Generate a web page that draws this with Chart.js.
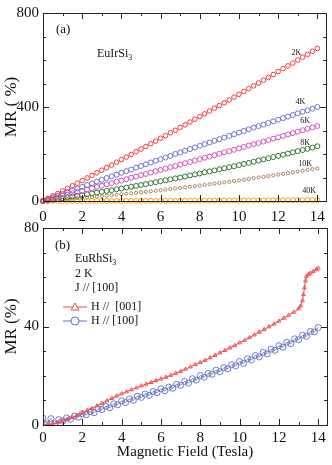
<!DOCTYPE html>
<html>
<head>
<meta charset="utf-8">
<script src="https://cdn.jsdelivr.net/npm/chart.js@4.4.1/dist/chart.umd.min.js"></script>
<style>
  html, body { margin: 0; padding: 0; background: #fff; }
  body { width: 332px; height: 465px; position: relative; overflow: hidden; }
  canvas { position: absolute; left: 0; }
  #chartA { top: 0; }
  #chartB { top: 215px; }
</style>
</head>
<body>
<canvas id="chartA" width="332" height="225"></canvas>
<canvas id="chartB" width="332" height="250"></canvas>
<script>
// panel (a): EuIrSi3, MR vs field at several temperatures
const fieldA = [0, 0.25, 0.5, 0.75, 1, 1.25, 1.5, 1.75, 2, 2.25, 2.5, 2.75, 3, 3.25, 3.5, 3.75, 4, 4.25, 4.5, 4.75,
  5, 5.25, 5.5, 5.75, 6, 6.25, 6.5, 6.75, 7, 7.25, 7.5, 7.75, 8, 8.25, 8.5, 8.75, 9, 9.25, 9.5, 9.75,
  10, 10.25, 10.5, 10.75, 11, 11.25, 11.5, 11.75, 12, 12.25, 12.5, 12.75, 13, 13.25, 13.5, 13.75, 14];
const mr2K = [0, 11, 22, 32, 43, 54, 65, 76, 87, 98, 109, 120, 131, 142, 153, 165, 176, 187, 198, 210,
  221, 232, 244, 255, 267, 278, 290, 301, 313, 324, 336, 348, 359, 371, 383, 395, 406, 418, 430, 442,
  454, 466, 478, 490, 502, 514, 526, 538, 551, 563, 575, 587, 600, 612, 624, 637, 649];
const mr4K = [0, 8, 15, 23, 30, 38, 45, 53, 60, 68, 75, 83, 90, 98, 105, 112, 120, 127, 134, 142,
  149, 156, 164, 171, 178, 185, 192, 200, 207, 214, 221, 228, 235, 242, 249, 256, 263, 270, 277, 284,
  291, 298, 305, 312, 319, 325, 332, 339, 346, 353, 359, 366, 373, 380, 386, 393, 400];
const mr6K = [0, 5, 11, 16, 22, 27, 33, 38, 43, 49, 54, 60, 65, 71, 76, 82, 87, 93, 99, 104,
  110, 115, 121, 127, 132, 138, 144, 149, 155, 161, 166, 172, 178, 184, 189, 195, 201, 207, 212, 218,
  224, 230, 236, 242, 247, 253, 259, 265, 271, 277, 283, 289, 295, 301, 307, 313, 319];
const mr8K = [0, 3, 6, 9, 12, 16, 19, 22, 25, 29, 32, 36, 39, 43, 46, 50, 53, 57, 61, 64,
  68, 72, 76, 80, 84, 88, 92, 96, 100, 104, 109, 113, 117, 122, 126, 130, 135, 139, 144, 148,
  153, 158, 162, 167, 172, 177, 182, 187, 192, 197, 202, 207, 212, 217, 222, 227, 233];
const mr10K = [0, 1.5, 3.1, 4.7, 6.3, 7.9, 9.6, 11.4, 13.1, 14.9, 16.8, 18.6, 20.5, 22.5, 24.4, 26.4, 28.5, 30.6, 32.7, 34.8,
  37, 39.2, 41.5, 43.8, 46.1, 48.4, 50.8, 53.3, 55.7, 58.2, 60.8, 63.3, 65.9, 68.6, 71.2, 73.9, 76.7, 79.5, 82.3, 85.1,
  88, 90.9, 93.9, 96.9, 99.9, 102.9, 106, 109.2, 112.3, 115.5, 118.8, 122, 125.3, 128.7, 132, 135.4, 138.9];
const mr40K = [0, 0, 0, 0, 0, 0, 0, 0.1, 0.1, 0.1, 0.1, 0.2, 0.2, 0.2, 0.2, 0.3, 0.3, 0.4, 0.4, 0.5,
  0.5, 0.6, 0.6, 0.7, 0.7, 0.8, 0.8, 0.9, 1, 1.1, 1.1, 1.2, 1.3, 1.4, 1.4, 1.5, 1.6, 1.7, 1.8, 1.9,
  2, 2.1, 2.2, 2.3, 2.4, 2.5, 2.6, 2.8, 2.9, 3, 3.1, 3.3, 3.4, 3.5, 3.6, 3.8, 3.9];
const tempLabels = ['2K', '4K', '6K', '8K', '10K', '40K'];
const tempColors = ['#f23a3a', '#6f72cc', '#d84fc4', '#2f7a33', '#a9825c', '#f6a623'];

// panel (b): EuRhSi3 at 2 K
const fieldB001 = [0, 0.25, 0.5, 0.75, 1, 1.25, 1.5, 1.75, 2, 2.25, 2.5, 2.75, 3, 3.25, 3.5, 3.75, 4, 4.25, 4.5, 4.75,
  5, 5.25, 5.5, 5.75, 6, 6.25, 6.5, 6.75, 7, 7.25, 7.5, 7.75, 8, 8.25, 8.5, 8.75, 9, 9.25, 9.5, 9.75,
  10, 10.25, 10.5, 10.75, 11, 11.25, 11.5, 11.75, 12, 12.25, 12.5, 12.75, 13, 13.1, 13.2, 13.25, 13.3, 13.35, 13.4,
  13.5, 13.6, 13.75, 13.9, 14];
const mr001 = [0, 0.2, 0.5, 1.0, 1.6, 2.3, 3.1, 4.0, 4.9, 5.9, 6.8, 7.8, 8.8, 9.8, 10.8, 11.8, 12.7, 13.5, 14.3, 15.1,
  15.9, 16.6, 17.3, 18.0, 18.7, 19.4, 20.2, 21.0, 21.8, 22.7, 23.6, 24.5, 25.4, 26.3, 27.3, 28.3, 29.3, 30.3, 31.3, 32.3,
  33.4, 34.4, 35.5, 36.6, 37.7, 38.8, 39.9, 41.0, 42.2, 43.4, 44.6, 45.8, 47.2, 48.3, 50.5, 53.0, 55.8, 58.6, 60.4,
  61.2, 61.7, 62.4, 63.1, 63.7];
const fieldB100 = [0, 0.2, 0.4, 0.6, 0.8, 1, 1.2, 1.4, 1.6, 1.8, 2, 2.2, 2.4, 2.6, 2.8, 3, 3.2, 3.4, 3.6, 3.8,
  4, 4.2, 4.4, 4.6, 4.8, 5, 5.2, 5.4, 5.6, 5.8, 6, 6.2, 6.4, 6.6, 6.8, 7, 7.2, 7.4, 7.6, 7.8,
  8, 8.2, 8.4, 8.6, 8.8, 9, 9.2, 9.4, 9.6, 9.8, 10, 10.2, 10.4, 10.6, 10.8, 11, 11.2, 11.4, 11.6, 11.8,
  12, 12.2, 12.4, 12.6, 12.8, 13, 13.2, 13.4, 13.6, 13.8, 14];
const mr100 = [2.8, 0.4, 2.6, 0.5, 2.2, 1.6, 2.9, 2.3, 3.6, 3.2, 4.6, 4.2, 5.4, 5.0, 6.6, 6.3, 7.6, 7.0, 8.6, 8.2,
  9.8, 9.1, 10.6, 10.0, 11.7, 11.2, 12.6, 12.0, 13.6, 13.1, 14.7, 13.9, 15.4, 14.9, 16.6, 16.1, 17.7, 17.0, 18.8, 18.2,
  20.1, 19.4, 21.0, 20.6, 22.3, 21.6, 23.3, 22.8, 24.5, 24.0, 25.8, 25.0, 26.9, 26.4, 28.2, 27.6, 29.5, 28.9, 30.8, 30.3,
  32.2, 31.6, 33.6, 33.0, 35.0, 34.6, 36.5, 36.0, 38.0, 37.8, 39.6];

const serif = '"Liberation Serif", "Times New Roman", serif';
const ink = '#222';

function pts(xs, ys) {
  return xs.map((x, i) => ({ x: x, y: ys[i] }));
}

// frame around the plot with inward ticks on all four sides
const frameTicks = {
  id: 'frameTicks',
  afterDraw(chart) {
    const ctx = chart.ctx;
    const a = chart.chartArea;
    ctx.save();
    ctx.strokeStyle = ink;
    ctx.lineWidth = 1;
    ctx.strokeRect(Math.round(a.left) + 0.5, Math.round(a.top) + 0.5,
      Math.round(a.right - a.left), Math.round(a.bottom - a.top));
    ctx.beginPath();
    chart.scales.x.ticks.forEach(t => {
      const px = Math.round(chart.scales.x.getPixelForValue(t.value)) + 0.5;
      const len = t.label === '' ? 3 : 6;
      ctx.moveTo(px, a.bottom); ctx.lineTo(px, a.bottom - len);
      ctx.moveTo(px, a.top); ctx.lineTo(px, a.top + len);
    });
    chart.scales.y.ticks.forEach(t => {
      const py = Math.round(chart.scales.y.getPixelForValue(t.value)) + 0.5;
      const len = t.label === '' ? 3 : 6;
      ctx.moveTo(a.left, py); ctx.lineTo(a.left + len, py);
      ctx.moveTo(a.right, py); ctx.lineTo(a.right - len, py);
    });
    ctx.stroke();
    ctx.restore();
  }
};

// text with a subscript tail, e.g. EuIrSi3
function subText(ctx, main, sub, x, y, size) {
  ctx.font = size + 'px ' + serif;
  ctx.fillText(main, x, y);
  const w = ctx.measureText(main).width;
  ctx.font = Math.round(size * 0.65) + 'px ' + serif;
  ctx.fillText(sub, x + w, y + 3);
}

const notesA = {
  id: 'notesA',
  afterDraw(chart) {
    const ctx = chart.ctx;
    const a = chart.chartArea;
    const sx = chart.scales.x, sy = chart.scales.y;
    ctx.save();
    ctx.fillStyle = '#111';
    ctx.textBaseline = 'alphabetic';
    ctx.font = '13px ' + serif;
    ctx.fillText('(a)', a.left + 13, a.top + 20);
    subText(ctx, 'EuIrSi', '3', a.left + 54, a.top + 44, 12);
    // temperature tags sit above the end of each curve
    const tagX = [12.93, 13.13, 13.38, 13.38, 13.38, 13.58];
    const tagY = [631, 421, 342, 247, 157, 45];
    ctx.font = '8px ' + serif;
    ctx.textAlign = 'center';
    ctx.textBaseline = 'middle';
    tempLabels.forEach((lab, i) => {
      ctx.fillText(lab, sx.getPixelForValue(tagX[i]), sy.getPixelForValue(tagY[i]));
    });
    ctx.restore();
  }
};

const notesB = {
  id: 'notesB',
  afterDraw(chart) {
    const ctx = chart.ctx;
    const a = chart.chartArea;
    ctx.save();
    ctx.fillStyle = '#111';
    ctx.font = '13px ' + serif;
    ctx.fillText('(b)', a.left + 12, a.top + 21);
    subText(ctx, 'EuRhSi', '3', a.left + 32, a.top + 34, 12);
    ctx.font = '12px ' + serif;
    ctx.fillText('2 K', a.left + 32, a.top + 49);
    ctx.fillText('J // [100]', a.left + 32, a.top + 63);
    // legend
    const rows = [
      { y: a.top + 79, color: '#f04545', style: 'triangle', text: 'H //  [001]' },
      { y: a.top + 93, color: '#5d6fc0', style: 'circle', text: 'H // [100]' }
    ];
    rows.forEach(r => {
      const x0 = a.left + 20, x1 = a.left + 44, xm = (x0 + x1) / 2;
      ctx.strokeStyle = r.color;
      ctx.lineWidth = 1;
      ctx.beginPath();
      ctx.moveTo(x0, r.y); ctx.lineTo(x1, r.y);
      ctx.stroke();
      ctx.fillStyle = '#fff';
      ctx.beginPath();
      if (r.style === 'triangle') {
        ctx.moveTo(xm, r.y - 4); ctx.lineTo(xm + 4, r.y + 3); ctx.lineTo(xm - 4, r.y + 3); ctx.closePath();
      } else {
        ctx.arc(xm, r.y, 4, 0, Math.PI * 2);
      }
      ctx.fill();
      ctx.stroke();
      ctx.fillStyle = '#111';
      ctx.font = '12px ' + serif;
      ctx.textBaseline = 'middle';
      ctx.fillText(r.text, x1 + 4, r.y);
      ctx.textBaseline = 'alphabetic';
    });
    ctx.restore();
  }
};

function xAxis(height, pad, title) {
  return {
    type: 'linear',
    min: 0,
    max: 14.45,
    grid: { display: false, drawTicks: false },
    border: { display: false },
    ticks: {
      stepSize: 1,
      includeBounds: false,
      autoSkip: false,
      maxRotation: 0,
      padding: pad,
      color: '#111',
      font: { family: serif, size: 15 },
      callback: v => (v % 2 === 0 ? v : '')
    },
    title: title ? {
      display: true, text: title, color: '#111',
      font: { family: serif, size: 15 }, padding: { top: 0, bottom: 4 }
    } : { display: false },
    afterFit: s => { s.height = height; }
  };
}

function yAxis(max, step, major, title) {
  return {
    min: 0,
    max: max,
    grid: { display: false, drawTicks: false },
    border: { display: false },
    ticks: {
      stepSize: step,
      autoSkip: false,
      padding: 4,
      color: '#111',
      font: { family: serif, size: 15 },
      callback: v => (v % major === 0 ? v : '')
    },
    title: {
      display: true, text: title, color: '#111',
      font: { family: serif, size: 17 }, padding: { top: 1, bottom: 0 }
    },
    afterFit: s => { s.width = 43; }
  };
}

const seriesA = [mr2K, mr4K, mr6K, mr8K, mr10K, mr40K];
const radiusA = [2.3, 2.5, 2.5, 2.5, 1.6, 2.5];

new Chart(document.getElementById('chartA'), {
  type: 'line',
  data: {
    datasets: seriesA.map((ys, i) => ({
      label: tempLabels[i],
      data: pts(fieldA, ys),
      showLine: false,
      borderColor: tempColors[i],
      backgroundColor: 'rgba(0,0,0,0)',
      pointStyle: 'circle',
      pointRadius: radiusA[i],
      pointBorderWidth: 1,
      clip: 4
    }))
  },
  options: {
    responsive: false,
    animation: false,
    devicePixelRatio: 1,
    layout: { padding: { top: 7, right: 2, left: 0, bottom: 0 } },
    plugins: { legend: { display: false }, tooltip: { enabled: false } },
    scales: {
      x: xAxis(24, 7, null),
      y: yAxis(800, 100, 400, 'MR ( %)')
    }
  },
  plugins: [frameTicks, notesA]
});

new Chart(document.getElementById('chartB'), {
  type: 'line',
  data: {
    datasets: [
      {
        label: 'H // [001]',
        data: pts(fieldB001, mr001),
        borderColor: '#f04545',
        borderWidth: 1,
        backgroundColor: 'rgba(0,0,0,0)',
        pointStyle: 'triangle',
        pointRadius: 2.2,
        pointBorderWidth: 0.9,
        tension: 0
      },
      {
        label: 'H // [100]',
        data: pts(fieldB100, mr100),
        borderColor: '#5d6fc0',
        borderWidth: 0.8,
        backgroundColor: 'rgba(0,0,0,0)',
        pointStyle: 'circle',
        pointRadius: 3,
        pointBorderWidth: 0.9,
        tension: 0
      }
    ]
  },
  options: {
    responsive: false,
    animation: false,
    devicePixelRatio: 1,
    layout: { padding: { top: 13, right: 2, left: 0, bottom: 0 } },
    plugins: { legend: { display: false }, tooltip: { enabled: false } },
    scales: {
      x: xAxis(40, 4, 'Magnetic Field (Tesla)'),
      y: yAxis(80, 10, 40, 'MR (%)')
    }
  },
  plugins: [frameTicks, notesB]
});
</script>
</body>
</html>
